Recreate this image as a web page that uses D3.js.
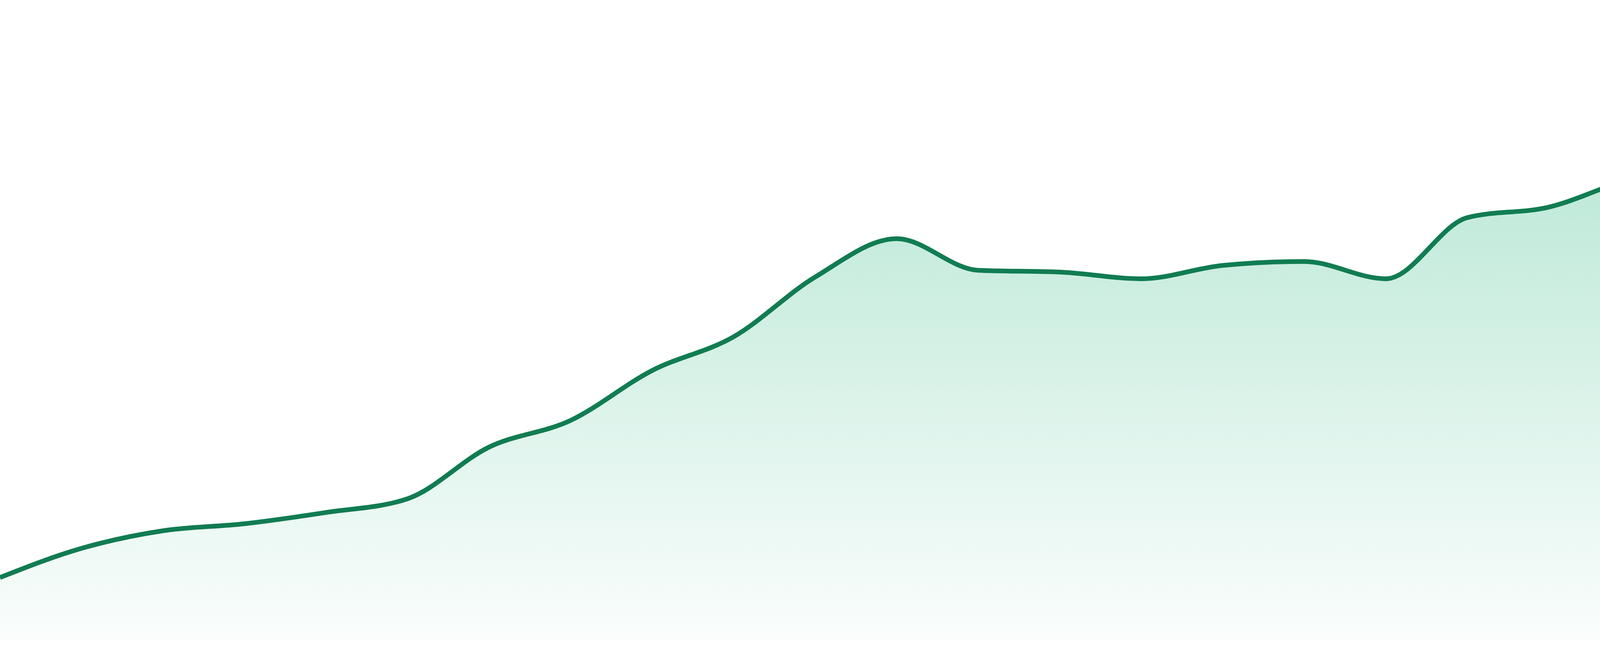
<!DOCTYPE html>
<html>
<head>
<meta charset="utf-8">
<script src="https://cdn.jsdelivr.net/npm/d3@7"></script>
<style>
  html, body { margin: 0; padding: 0; background: #ffffff; }
  svg { display: block; }
</style>
</head>
<body>
<div id="chart"></div>
<script>
// ---- data ----
const categories = ["P1","P2","P3","P4","P5","P6","P7","P8","P9","P10","P11","P12",
                    "P13","P14","P15","P16","P17","P18","P19","P20","P21","P22","P23","P24"];
const values = [17.9, 26.2, 31.2, 33.2, 36.4, 40.3, 55.0, 62.6, 76.8, 86.4, 103.4, 114.3,
                105.3, 104.8, 102.9, 106.7, 107.8, 102.9, 120.3, 123.3, 131.4, 137.2, 152.2, 160.0];
const yDomain = [0, 160];

// ---- layout ----
const W = 4800, H = 1680;
const baseY = 1640, topY = 200;

const svg = d3.select("#chart").append("svg")
  .attr("width", W).attr("height", H)
  .attr("viewBox", `0 0 ${W} ${H}`);

const x = d3.scalePoint().domain(categories).range([0, W]);
const y = d3.scaleLinear().domain(yDomain).range([baseY, topY]);

const data = categories.map((c, i) => ({ c, v: values[i] }));

const defs = svg.append("defs");
const grad = defs.append("linearGradient")
  .attr("id", "areaGrad")
  .attr("gradientUnits", "userSpaceOnUse")
  .attr("x1", 0).attr("x2", 0)
  .attr("y1", y(d3.max(values))).attr("y2", baseY);
grad.append("stop").attr("offset", "0%").attr("stop-color", "#14b073").attr("stop-opacity", 0.33);
grad.append("stop").attr("offset", "100%").attr("stop-color", "#14b073").attr("stop-opacity", 0.02);

const area = d3.area()
  .x(d => x(d.c))
  .y0(baseY)
  .y1(d => y(d.v))
  .curve(d3.curveMonotoneX);

const line = d3.line()
  .x(d => x(d.c))
  .y(d => y(d.v))
  .curve(d3.curveMonotoneX);

svg.append("path")
  .datum(data)
  .attr("d", area)
  .attr("fill", "url(#areaGrad)");

svg.append("path")
  .datum(data)
  .attr("d", line)
  .attr("fill", "none")
  .attr("stroke", "#117c52")
  .attr("stroke-width", 12)
  .attr("stroke-linejoin", "round");
</script>
</body>
</html>
